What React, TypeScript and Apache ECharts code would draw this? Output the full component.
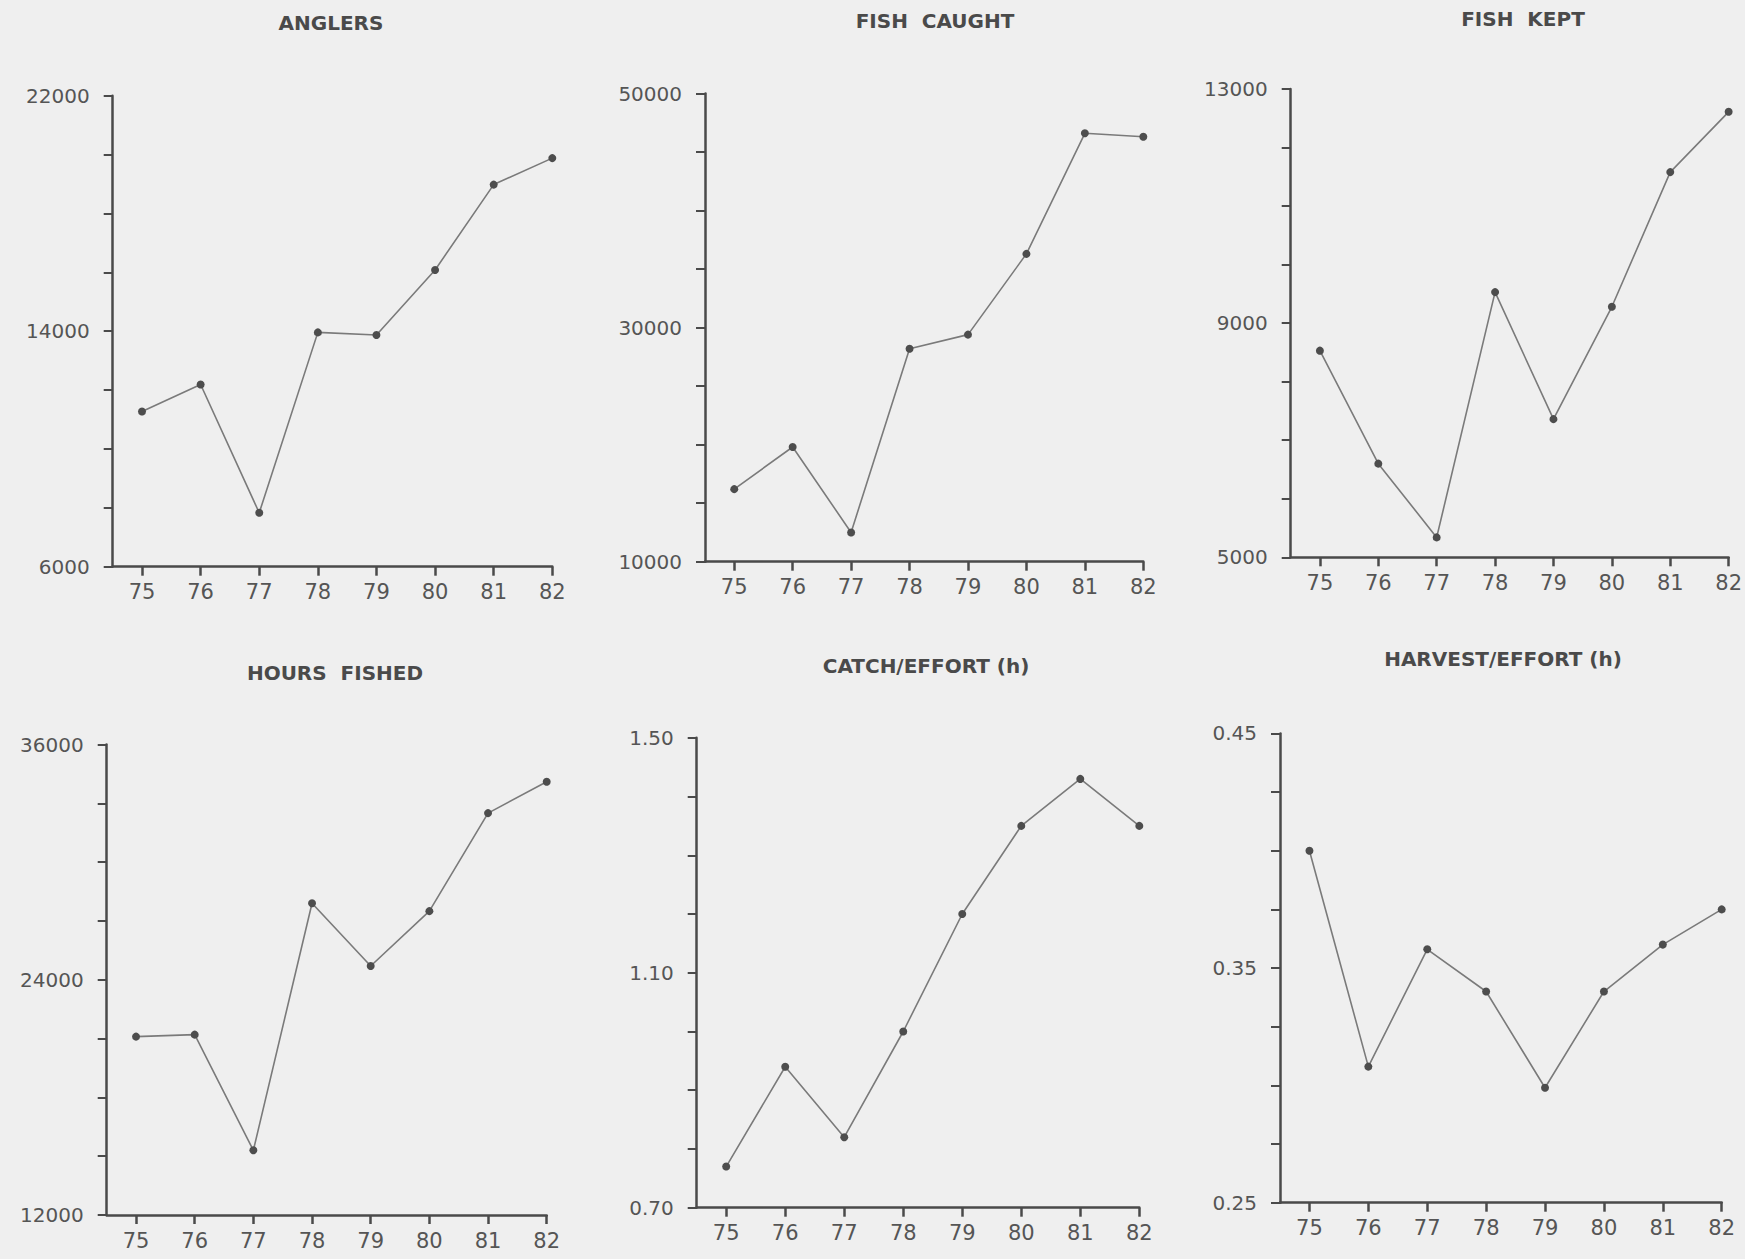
import React, { useEffect, useRef } from "react";
import * as echarts from "echarts";

// ---- data ----
const years = [75, 76, 77, 78, 79, 80, 81, 82];

const anglers = [11270, 12190, 7830, 13960, 13870, 16080, 18980, 19880];
const fishCaught = [16200, 19800, 12500, 28200, 29400, 36300, 46600, 46300];
const fishKept = [8530, 6600, 5340, 9530, 7360, 9280, 11580, 12610];
const hoursFished = [21100, 21200, 15300, 27900, 24700, 27500, 32500, 34100];
const catchEffort = [0.77, 0.94, 0.82, 1.0, 1.2, 1.35, 1.43, 1.35];
const harvestEffort = [0.4, 0.308, 0.358, 0.34, 0.299, 0.34, 0.36, 0.375];

const titles = [
  "ANGLERS",
  "FISH  CAUGHT",
  "FISH  KEPT",
  "HOURS  FISHED",
  "CATCH/EFFORT (h)",
  "HARVEST/EFFORT (h)",
];

const anglersLabels = [6000, 14000, 22000];
const fishCaughtLabels = [10000, 30000, 50000];
const fishKeptLabels = [5000, 9000, 13000];
const hoursFishedLabels = [12000, 24000, 36000];
const catchEffortLabels = [0.7, 1.1, 1.5];
const harvestEffortLabels = [0.25, 0.35, 0.45];

const seriesList = [anglers, fishCaught, fishKept, hoursFished, catchEffort, harvestEffort];
const labelList = [
  anglersLabels,
  fishCaughtLabels,
  fishKeptLabels,
  hoursFishedLabels,
  catchEffortLabels,
  harvestEffortLabels,
];
const decimals = [0, 0, 0, 0, 2, 2];

// ---- layout (pixel positions of each panel's plot area) ----
const layout = [
  { left: 112.7, top: 95.7, width: 439.6, height: 471, tx: 331, ty: 23 },
  { left: 705, top: 93.5, width: 438.3, height: 468.2, tx: 935, ty: 21 },
  { left: 1290.7, top: 89, width: 439.3, height: 468.3, tx: 1523, ty: 19 },
  { left: 106.7, top: 744.5, width: 440, height: 470.5, tx: 335, ty: 673 },
  { left: 696.7, top: 737.8, width: 442.6, height: 469.9, tx: 926, ty: 666 },
  { left: 1280, top: 733.4, width: 441.7, height: 469.3, tx: 1503, ty: 659 },
];

const AXIS_COLOR = "#4a4a4a";
const TEXT_COLOR = "#555555";
const FONT = "'DejaVu Sans', sans-serif";

export default function App() {
  const ref = useRef<HTMLDivElement>(null);

  useEffect(() => {
    if (!ref.current) return;
    const chart = echarts.init(ref.current, undefined, { renderer: "svg" });

    const grid: any[] = [];
    const xAxis: any[] = [];
    const yAxis: any[] = [];
    const series: any[] = [];
    const graphic: any[] = [];

    layout.forEach((L, i) => {
      const labels = labelList[i];
      const yMin = labels[0];
      const yMax = labels[labels.length - 1];
      const ticks = Array.from({ length: 9 }, (_, k) => yMin + (k * (yMax - yMin)) / 8);
      const dec = decimals[i];

      grid.push({
        left: L.left,
        top: L.top,
        width: L.width,
        height: L.height,
        containLabel: false,
      });

      xAxis.push({
        type: "value",
        gridIndex: i,
        min: 74.5,
        max: 82,
        axisLine: { show: true, onZero: false, lineStyle: { color: AXIS_COLOR, width: 2.5 } },
        axisTick: {
          show: true,
          length: 9,
          customValues: years,
          lineStyle: { color: AXIS_COLOR, width: 2.5 },
        },
        axisLabel: {
          customValues: years,
          margin: 15,
          color: TEXT_COLOR,
          fontSize: 21,
          fontFamily: FONT,
          formatter: (v: number) => String(Math.round(v)),
        },
        splitLine: { show: false },
      });

      yAxis.push({
        type: "value",
        gridIndex: i,
        min: yMin,
        max: yMax,
        axisLine: { show: true, onZero: false, lineStyle: { color: AXIS_COLOR, width: 2.5 } },
        axisTick: {
          show: true,
          length: 9,
          customValues: ticks,
          lineStyle: { color: AXIS_COLOR, width: 2 },
        },
        axisLabel: {
          customValues: labels,
          margin: 23,
          color: TEXT_COLOR,
          fontSize: 20,
          fontFamily: FONT,
          formatter: (v: number) => v.toFixed(dec),
        },
        splitLine: { show: false },
      });

      series.push({
        type: "line",
        xAxisIndex: i,
        yAxisIndex: i,
        data: years.map((y, k) => [y, seriesList[i][k]]),
        symbol: "circle",
        symbolSize: 8,
        itemStyle: { color: "#4d4d4d" },
        lineStyle: { color: "#7a7a7a", width: 1.6 },
        silent: true,
      });

      graphic.push({
        type: "text",
        x: L.tx,
        y: L.ty,
        style: {
          text: titles[i],
          fill: "#4a4a4a",
          font: `bold 20px ${FONT}`,
          textAlign: "center",
          textVerticalAlign: "middle",
        },
      });
    });

    chart.setOption({
      animation: false,
      backgroundColor: "#efefef",
      grid,
      xAxis,
      yAxis,
      series,
      graphic,
    });

    return () => chart.dispose();
  }, []);

  return (
    <div
      ref={ref}
      style={{ position: "absolute", left: 0, top: 0, width: 1745, height: 1259 }}
    />
  );
}
